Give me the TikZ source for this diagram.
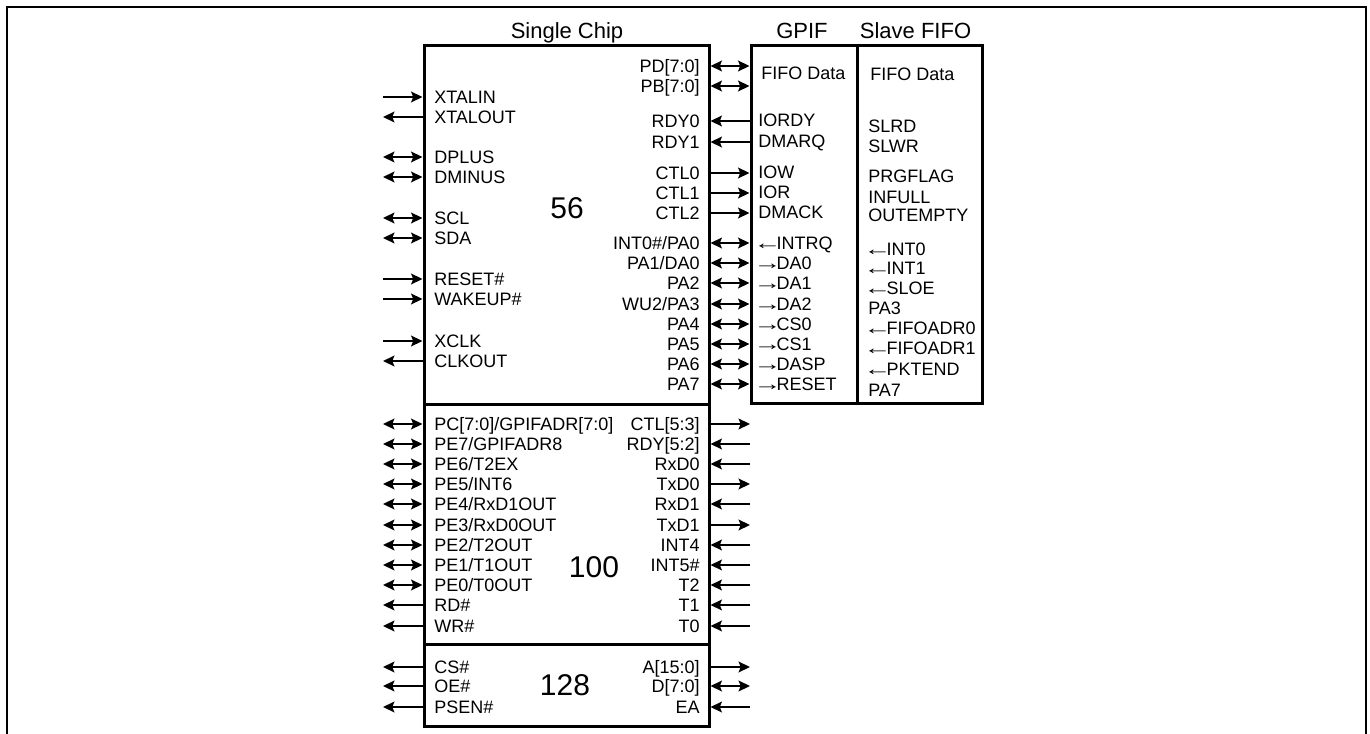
\documentclass[tikz,border=0pt]{standalone}
\usepackage{fontspec}
\usepackage{graphicx}
\setmainfont{Liberation Sans}
\usetikzlibrary{arrows.meta,fit}
\newcommand\lblfont{\fontsize{13.5}{15}\selectfont}
\newcommand\ttlfont{\fontsize{16.5}{19}\selectfont}
\newcommand\numfont{\fontsize{22.5}{26}\selectfont}
\newcommand\la{\kern-3.5pt\raisebox{-0.3pt}{\scalebox{1.55}[1.05]{←}}\kern-3.6pt}
\newcommand\ra{\kern-3.5pt\raisebox{-0.3pt}{\scalebox{1.55}[1.05]{→}}\kern-3.6pt}
\begin{document}
\begin{tikzpicture}[x=0.75pt,y=-0.75pt,
 box/.style={draw, line width=2.25pt, inner sep=0pt},
 lbl/.style={font=\lblfont, inner sep=0pt, text height=9.7pt, text depth=0pt},
 ttl/.style={font=\ttlfont, inner sep=0pt, text height=11.9pt, text depth=0pt},
 num/.style={font=\numfont, inner sep=0pt, text height=16.1pt, text depth=0pt},
 wire/.style={line width=1.5pt},
 tipA/.tip={Stealth[length=8.5pt,width=8pt,inset=1.5pt]},
 pinin/.style={wire,-tipA},
 pinout/.style={wire,tipA-},
 pinbi/.style={wire,tipA-tipA},
 frame/.style={line width=1.5pt}]
\useasboundingbox (0,0) rectangle (1370,734);
% outer frame (open at the bottom)
\draw[frame] (7,745) -- (7,7) -- (1365.5,7) -- (1365.5,745);
% boxes
\node[box, fit={(424,46) (709,404)}] (s56) {};
\node[box, fit={(424,404) (709,644)}] (s100) {};
\node[box, fit={(424,644) (709,726)}] (s128) {};
\node[box, fit={(751,46) (857,403)}] (gpif) {};
\node[box, fit={(857,46) (982,403)}] (slave) {};
% titles
\node[ttl] (tchip) at (567,31) {Single Chip};
\node[ttl] (tgpif) at (802,31) {GPIF};
\node[ttl] (tslave) at (915.5,31) {Slave FIFO};
% section numbers
\node[num] (n56) at (567,208) {56};
\node[num] (n100) at (594,567) {100};
\node[num] (n128) at (565,685) {128};
% left pins, section 56
\foreach \t/\y/\d [count=\i] in {XTALIN/97/pinin, XTALOUT/117/pinout, DPLUS/157/pinbi, DMINUS/177/pinbi, SCL/218/pinbi, SDA/238/pinbi, RESET\#/279/pinin, WAKEUP\#/299/pinin, XCLK/341/pinin, CLKOUT/361/pinout}{
  \node[lbl, anchor=west] (la\i) at (434,\y) {\t};
  \coordinate (lae\i) at (383,\y);
  \draw[\d] (lae\i) -- (lae\i -| s56.west);
}
% right pins, section 56
\foreach \t/\y/\d [count=\i] in {PD[7:0]/66/pinbi, PB[7:0]/86/pinbi, RDY0/121/pinin, RDY1/142/pinin, CTL0/173/pinout, CTL1/193/pinout, CTL2/213/pinout, {INT0\#/PA0}/243/pinbi, {PA1/DA0}/263/pinbi, PA2/283/pinbi, {WU2/PA3}/304/pinbi, PA4/324/pinbi, PA5/344/pinbi, PA6/364/pinbi, PA7/384/pinbi}{
  \node[lbl, anchor=east] (ra\i) at (700,\y) {\t};
  \draw[\d] (ra\i -| gpif.west) -- (ra\i -| s56.east);
}
% GPIF labels
\node[lbl, anchor=west] (gfd) at (761,73) {FIFO Data};
\foreach \t/\y [count=\i] in {IORDY/120, DMARQ/141, IOW/172, IOR/192, DMACK/212, \la INTRQ/243, \ra DA0/263, \ra DA1/283, \ra DA2/304, \ra CS0/324, \ra CS1/344, \ra DASP/364, \ra RESET/384}{
  \node[lbl, anchor=west] (g\i) at (758,\y) {\t};
}
% Slave FIFO labels
\node[lbl, anchor=west] (sfd) at (870,74) {FIFO Data};
\foreach \t/\y [count=\i] in {SLRD/126, SLWR/146, PRGFLAG/176, INFULL/197, OUTEMPTY/215, \la INT0/249, \la INT1/268, \la SLOE/288, PA3/308, \la FIFOADR0/328, \la FIFOADR1/348, \la PKTEND/369, PA7/390}{
  \node[lbl, anchor=west] (sf\i) at (868,\y) {\t};
}
% left pins, section 100
\foreach \t/\y/\d [count=\i] in {{PC[7:0]/GPIFADR[7:0]}/424/pinbi, {PE7/GPIFADR8}/444/pinbi, {PE6/T2EX}/464/pinbi, {PE5/INT6}/484/pinbi, {PE4/RxD1OUT}/504/pinbi, {PE3/RxD0OUT}/525/pinbi, {PE2/T2OUT}/545/pinbi, {PE1/T1OUT}/565/pinbi, {PE0/T0OUT}/585/pinbi, RD\#/605/pinout, WR\#/626/pinout}{
  \node[lbl, anchor=west] (lb\i) at (434,\y) {\t};
  \coordinate (lbe\i) at (383,\y);
  \draw[\d] (lbe\i) -- (lbe\i -| s100.west);
}
% right pins, section 100
\foreach \t/\y/\d [count=\i] in {CTL[5:3]/424/pinout, RDY[5:2]/444/pinin, RxD0/464/pinin, TxD0/484/pinout, RxD1/504/pinin, TxD1/525/pinout, INT4/545/pinin, INT5\#/565/pinin, T2/585/pinin, T1/605/pinin, T0/626/pinin}{
  \node[lbl, anchor=east] (rb\i) at (700,\y) {\t};
  \coordinate (rbe\i) at (750,\y);
  \draw[\d] (rbe\i) -- (rbe\i -| s100.east);
}
% left pins, section 128
\foreach \t/\y/\d [count=\i] in {CS\#/667/pinout, OE\#/686/pinout, PSEN\#/707/pinout}{
  \node[lbl, anchor=west] (lc\i) at (434,\y) {\t};
  \coordinate (lce\i) at (383,\y);
  \draw[\d] (lce\i) -- (lce\i -| s128.west);
}
% right pins, section 128
\foreach \t/\y/\d [count=\i] in {A[15:0]/667/pinout, D[7:0]/686/pinbi, EA/707/pinin}{
  \node[lbl, anchor=east] (rc\i) at (700,\y) {\t};
  \coordinate (rce\i) at (750,\y);
  \draw[\d] (rce\i) -- (rce\i -| s128.east);
}
\end{tikzpicture}
\end{document}
